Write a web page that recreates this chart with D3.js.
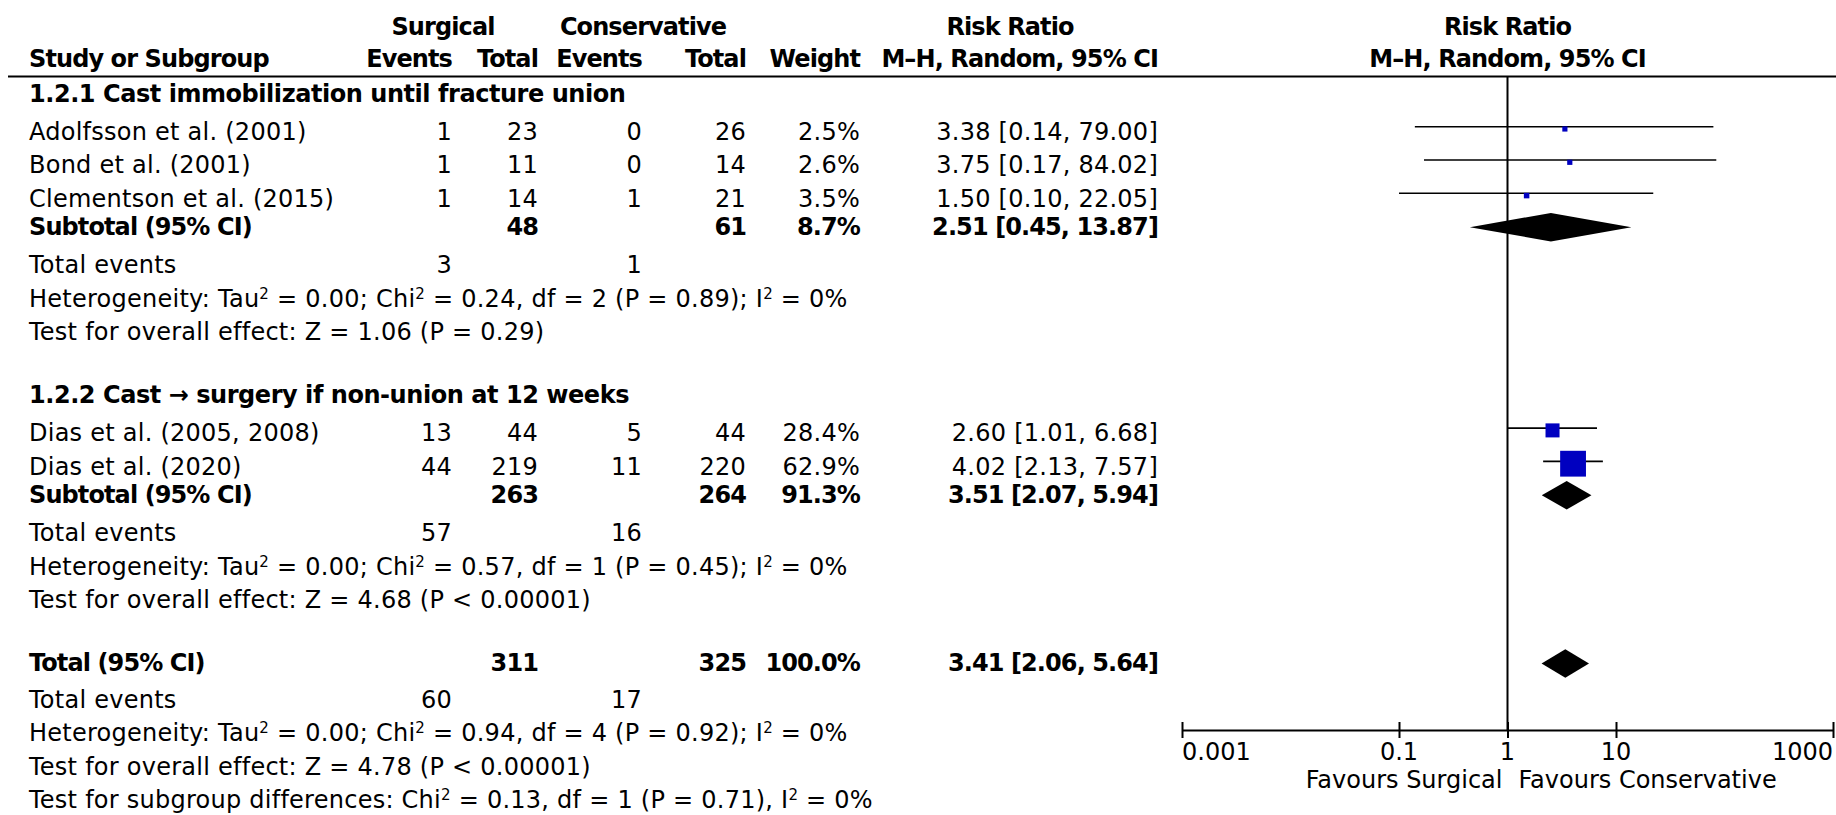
<!DOCTYPE html>
<html><head><meta charset="utf-8">
<script src="https://cdn.jsdelivr.net/npm/d3@7"></script>
<style>
body{margin:0;background:#fff}
svg text{font-family:"DejaVu Sans";font-size:24px;fill:#000;letter-spacing:0.25px}
svg text.b{font-weight:bold;letter-spacing:-0.9px}
svg text.b.t{letter-spacing:-0.45px}
svg text.f{letter-spacing:0px}
</style>
</head><body><svg id="c" width="1836" height="815"></svg>
<script>
// ---- data ----
const studyNames = ["Adolfsson et al. (2001)","Bond et al. (2001)","Clementson et al. (2015)","Dias et al. (2005, 2008)","Dias et al. (2020)"];
const studyGroup = [0,0,0,1,1];
const surgEvents = [1,1,1,13,44];
const surgTotal  = [23,11,14,44,219];
const consEvents = [0,0,1,5,11];
const consTotal  = [26,14,21,44,220];
const weights    = [2.5,2.6,3.5,28.4,62.9];
const rr   = [3.38,3.75,1.50,2.60,4.02];
const rrLo = [0.14,0.17,0.10,1.01,2.13];
const rrHi = [79.00,84.02,22.05,6.68,7.57];

const groupTitles   = ["1.2.1 Cast immobilization until fracture union","1.2.2 Cast \u2192 surgery if non-union at 12 weeks"];
const subSurgTotal  = [48,263];
const subConsTotal  = [61,264];
const subWeight     = [8.7,91.3];
const subRR = [2.51,3.51];
const subLo = [0.45,2.07];
const subHi = [13.87,5.94];
const subSurgEvents = [3,57];
const subConsEvents = [1,16];
const subTau = ["0.00","0.00"];
const subChi = ["0.24","0.57"];
const subDf  = [2,1];
const subHetP = ["P = 0.89","P = 0.45"];
const subI2  = ["0%","0%"];
const subZ   = ["1.06","4.68"];
const subZP  = ["P = 0.29","P < 0.00001"];

const totSurg = 311, totCons = 325, totWeight = 100.0;
const totRR = 3.41, totLo = 2.06, totHi = 5.64;
const totSurgEvents = 60, totConsEvents = 17;
const totTau = "0.00", totChi = "0.94", totDf = 4, totHetP = "P = 0.92", totI2 = "0%";
const totZ = "4.78", totZP = "P < 0.00001";
const sgChi = "0.13", sgDf = 1, sgP = "P = 0.71", sgI2 = "0%";

const tickValues = [0.001,0.1,1,10,1000];
const tickLabels = ["0.001","0.1","1","10","1000"];
const favLeft = "Favours Surgical", favRight = "Favours Conservative";

// ---- layout ----
const svg = d3.select("#c");
const colX = {name:29, se:452, st:538, ce:642, ct:746, w:860, rr:1158};
const x = d3.scaleLog().domain([0.001,1000]).range([1182,1833]);
const sq = d3.scaleLinear().domain([0,100]).range([4.3,38.5]);
const fmt2 = d3.format(".2f");
const ciText = (m,l,h)=>`${fmt2(m)} [${fmt2(l)}, ${fmt2(h)}]`;

function txt(str,xp,y,anchor,bold,cls){
  const t = svg.append("text").attr("x",xp).attr("y",y).attr("text-anchor",anchor||"start");
  let c = (bold?"b":"") + (cls?" "+cls:"");
  if(c.trim()) t.attr("class",c.trim());
  const parts = str.split("\u00b2");
  parts.forEach((p,i)=>{
    if(i>0){ t.append("tspan").attr("dy",-8).attr("font-size","15px").text("2"); }
    const s = t.append("tspan").text(p);
    if(i>0) s.attr("dy",8);
  });
  return t;
}

// headers
txt("Surgical",443,35,"middle",true);
txt("Conservative",643,35,"middle",true);
txt("Risk Ratio",1010,35,"middle",true);
txt("Risk Ratio",x(1),35,"middle",true);
txt("Study or Subgroup",colX.name,66.7,"start",true);
txt("Events",colX.se,66.7,"end",true);
txt("Total",colX.st,66.7,"end",true);
txt("Events",colX.ce,66.7,"end",true);
txt("Total",colX.ct,66.7,"end",true);
txt("Weight",colX.w,66.7,"end",true);
txt("M\u2013H, Random, 95% CI",colX.rr,66.7,"end",true);
txt("M\u2013H, Random, 95% CI",x(1),66.7,"middle",true);
svg.append("line").attr("x1",8).attr("x2",1836).attr("y1",76.5).attr("y2",76.5).attr("stroke","#000").attr("stroke-width",2);

const plot = svg.append("g");
function studyMark(i,y){
  const ly = y-13.3;
  plot.append("line").attr("x1",x(rrLo[i])).attr("x2",x(rrHi[i])).attr("y1",ly).attr("y2",ly).attr("stroke","#000").attr("stroke-width",1.6);
  const s = sq(weights[i]);
  plot.append("rect").attr("x",x(rr[i])-s/2).attr("y",y-11-s/2).attr("width",s).attr("height",s).attr("fill","#0000C0");
}
function diamond(m,l,h,y){
  const cy = y-7.7, hh = 14.2;
  plot.append("path").attr("d",`M${x(l)},${cy}L${x(m)},${cy-hh}L${x(h)},${cy}L${x(m)},${cy+hh}Z`).attr("fill","#000");
}

let y = 101.7;
groupTitles.forEach((g,gi)=>{
  if(gi>0) y += 63.3;
  txt(g,colX.name,y,"start",true,"t");
  let first = true;
  studyNames.forEach((n,i)=>{
    if(studyGroup[i]!==gi) return;
    y += first?38.3:33.3; first=false;
    txt(n,colX.name,y);
    txt(String(surgEvents[i]),colX.se,y,"end");
    txt(String(surgTotal[i]),colX.st,y,"end");
    txt(String(consEvents[i]),colX.ce,y,"end");
    txt(String(consTotal[i]),colX.ct,y,"end");
    txt(weights[i].toFixed(1)+"%",colX.w,y,"end");
    txt(ciText(rr[i],rrLo[i],rrHi[i]),colX.rr,y,"end");
    studyMark(i,y);
  });
  y += 28.3;
  txt("Subtotal (95% CI)",colX.name,y,"start",true);
  txt(String(subSurgTotal[gi]),colX.st,y,"end",true);
  txt(String(subConsTotal[gi]),colX.ct,y,"end",true);
  txt(subWeight[gi].toFixed(1)+"%",colX.w,y,"end",true);
  txt(ciText(subRR[gi],subLo[gi],subHi[gi]),colX.rr,y,"end",true);
  diamond(subRR[gi],subLo[gi],subHi[gi],y);
  y += 38.3;
  txt("Total events",colX.name,y);
  txt(String(subSurgEvents[gi]),colX.se,y,"end");
  txt(String(subConsEvents[gi]),colX.ce,y,"end");
  y += 33.3;
  txt(`Heterogeneity: Tau\u00b2 = ${subTau[gi]}; Chi\u00b2 = ${subChi[gi]}, df = ${subDf[gi]} (${subHetP[gi]}); I\u00b2 = ${subI2[gi]}`,colX.name,y);
  y += 33.3;
  txt(`Test for overall effect: Z = ${subZ[gi]} (${subZP[gi]})`,colX.name,y);
});

y += 63.3;
txt("Total (95% CI)",colX.name,y,"start",true);
txt(String(totSurg),colX.st,y,"end",true);
txt(String(totCons),colX.ct,y,"end",true);
txt(totWeight.toFixed(1)+"%",colX.w,y,"end",true);
txt(ciText(totRR,totLo,totHi),colX.rr,y,"end",true);
diamond(totRR,totLo,totHi,y);
y += 36.7;
txt("Total events",colX.name,y);
txt(String(totSurgEvents),colX.se,y,"end");
txt(String(totConsEvents),colX.ce,y,"end");
y += 33.3;
txt(`Heterogeneity: Tau\u00b2 = ${totTau}; Chi\u00b2 = ${totChi}, df = ${totDf} (${totHetP}); I\u00b2 = ${totI2}`,colX.name,y);
y += 33.3;
txt(`Test for overall effect: Z = ${totZ} (${totZP})`,colX.name,y);
y += 33.3;
txt(`Test for subgroup differences: Chi\u00b2 = ${sgChi}, df = ${sgDf} (${sgP}), I\u00b2 = ${sgI2}`,colX.name,y);

// axis
const axisY = 730;
svg.append("line").attr("x1",x(1)).attr("x2",x(1)).attr("y1",77).attr("y2",axisY).attr("stroke","#000").attr("stroke-width",2);
const ax = svg.append("g").attr("transform",`translate(0,${axisY})`)
  .call(d3.axisBottom(x).tickValues(tickValues).tickSize(8).tickSizeOuter(0).tickFormat(""));
ax.select(".domain").attr("stroke","#000").attr("stroke-width",2);
ax.selectAll(".tick line").attr("y1",-8).attr("y2",8).attr("stroke","#000").attr("stroke-width",2);
tickValues.forEach((v,i)=>{
  const anchor = i===0?"start":(i===tickValues.length-1?"end":"middle");
  txt(tickLabels[i], x(v), 760, anchor, false, "f");
});
txt(favLeft, x(1)-5, 788.3, "end", false, "f");
txt(favRight, x(1)+11, 788.3, "start", false, "f");
</script></body></html>
